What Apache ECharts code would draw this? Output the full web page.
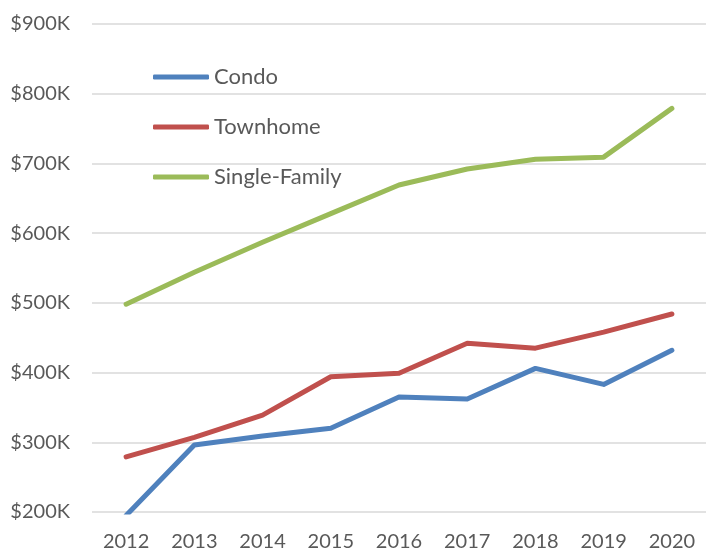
<!DOCTYPE html>
<html>
<head>
<meta charset="utf-8">
<script src="https://cdn.jsdelivr.net/npm/echarts@6/dist/echarts.min.js"></script>
<style>
html,body{margin:0;padding:0;background:#fff;}
#chart{width:706px;height:552px;}
</style>
</head>
<body>
<div id="chart"></div>
<script>
const categories = ['2012','2013','2014','2015','2016','2017','2018','2019','2020'];
const condo = [195, 296, 309, 320, 365, 362, 406, 383, 432];
const townhome = [279, 307, 339, 394, 399, 442, 435, 458, 484];
const singleFamily = [498, 544, 587, 628, 669, 692, 706, 709, 779];
const yTicks = {min: 200, max: 900, interval: 100};

const chart = echarts.init(document.getElementById('chart'));
const font = 'Lato, "Open Sans", sans-serif';
function mk(name, data, color) {
  return {
    name: name, type: 'line', data: data, symbol: 'none',
    lineStyle: {width: 5, color: color, cap: 'round', join: 'round'},
    itemStyle: {color: color},
    clip: true
  };
}
chart.setOption({
  animation: false,
  backgroundColor: '#fff',
  grid: {left: 92, top: 24, right: -12, bottom: 40, containLabel: false},
  legend: {
    orient: 'vertical', left: 153, top: 66, itemGap: 28, padding: 0,
    itemWidth: 56, itemHeight: 5, icon: 'roundRect',
    textStyle: {fontFamily: font, fontSize: 22, color: '#595959'},
    data: ['Condo','Townhome','Single-Family']
  },
  xAxis: {
    type: 'category', data: categories, boundaryGap: true,
    axisLine: {show: false}, axisTick: {show: false},
    axisLabel: {fontFamily: font, fontSize: 20, color: '#595959', margin: 20}
  },
  yAxis: {
    type: 'value', min: yTicks.min, max: yTicks.max, interval: yTicks.interval,
    axisLine: {show: false}, axisTick: {show: false},
    splitLine: {lineStyle: {color: '#d9d9d9', width: 1.5}},
    axisLabel: {fontFamily: font, fontSize: 20, color: '#595959', margin: 22,
      formatter: v => '$' + v + 'K'}
  },
  series: [
    mk('Condo', condo, '#4F81BD'),
    mk('Townhome', townhome, '#C0504D'),
    mk('Single-Family', singleFamily, '#9BBB59')
  ]
});
</script>
</body>
</html>
